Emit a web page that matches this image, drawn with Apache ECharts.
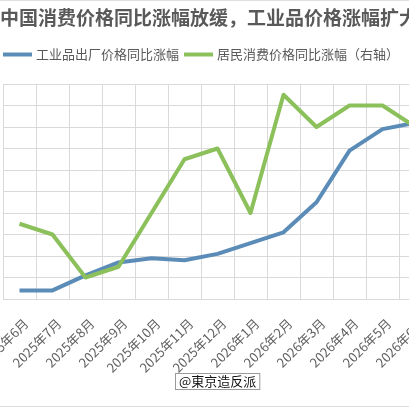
<!DOCTYPE html>
<html>
<head>
<meta charset="utf-8">
<script src="https://cdn.jsdelivr.net/npm/echarts@6/dist/echarts.min.js"></script>
<style>
html,body{margin:0;padding:0;background:#fff;overflow:hidden;width:409px;height:408px;}
#c{width:440px;height:408px;}
</style>
</head>
<body>
<div id="c"></div>
<script>
var titleText = '中国消费价格同比涨幅放缓，工业品价格涨幅扩大';
var categories = ['2025年6月','2025年7月','2025年8月','2025年9月','2025年10月','2025年11月','2025年12月','2026年1月','2026年2月','2026年3月','2026年4月','2026年5月','2026年6月'];
var ppiName = '工业品出厂价格同比涨幅';
var cpiName = '居民消费价格同比涨幅（右轴）';
var ppiValues = [-3.6, -3.6, -2.9, -2.3, -2.1, -2.2, -1.9, -1.4, -0.9, 0.5, 2.9, 3.9, 4.2];
var cpiValues = [0.1, 0.0, -0.4, -0.3, 0.2, 0.7, 0.8, 0.2, 1.3, 1.0, 1.2, 1.2, 1.0];
var watermark = '@東京造反派';

var FONT = '"Noto Sans CJK SC", "Noto Sans", sans-serif';
var gridColor = '#d9d9d9';
var labelStyle = {interval: 0, rotate: 45, margin: 22, fontFamily: FONT, fontSize: 13, color: '#606060'};
var chart = echarts.init(document.getElementById('c'), null, {renderer: 'canvas'});
chart.setOption({
  backgroundColor: '#ffffff',
  animation: false,
  title: {
    text: titleText,
    left: 0,
    top: 8,
    padding: 0,
    textStyle: {fontFamily: FONT, fontSize: 19, fontWeight: 'bold', color: '#595959'}
  },
  legend: {
    left: 3,
    top: 48,
    padding: 0,
    icon: 'rect',
    itemWidth: 29,
    itemHeight: 4,
    itemGap: 5,
    textStyle: {fontFamily: FONT, fontSize: 13, color: '#595959', padding: [0,0,0,-1]},
    data: [ppiName, cpiName]
  },
  grid: [
    {left: 3, width: 429, top: 84, bottom: 109, containLabel: false, outerBoundsMode: 'none'},
    {left: 9.5, width: 429, top: 84, bottom: 109, containLabel: false, outerBoundsMode: 'none'}
  ],
  xAxis: [
    {
      type: 'category',
      gridIndex: 0,
      data: categories,
      boundaryGap: true,
      axisTick: {show: false},
      axisLine: {lineStyle: {color: gridColor}},
      splitLine: {show: true, interval: 0, lineStyle: {color: gridColor, width: 1}},
      axisLabel: {show: false}
    },
    {
      type: 'category',
      gridIndex: 1,
      data: categories,
      boundaryGap: true,
      axisTick: {show: false},
      axisLine: {show: false},
      splitLine: {show: false},
      axisLabel: labelStyle
    }
  ],
  yAxis: [
    {
      type: 'value', gridIndex: 0, min: -4, max: 6, interval: 1,
      axisLabel: {show: false}, axisTick: {show: false}, axisLine: {show: false},
      splitLine: {show: true, lineStyle: {color: gridColor, width: 1}}
    },
    {
      type: 'value', gridIndex: 0, min: -0.6, max: 1.4, interval: 0.2,
      axisLabel: {show: false}, axisTick: {show: false}, axisLine: {show: false},
      splitLine: {show: false}
    },
    {
      type: 'value', gridIndex: 1, min: 0, max: 1, show: false,
      splitLine: {show: false}
    }
  ],
  series: [
    {
      name: ppiName, type: 'line', xAxisIndex: 0, yAxisIndex: 0, data: ppiValues,
      showSymbol: false, symbol: 'none',
      itemStyle: {color: '#5b8cb8'},
      lineStyle: {color: '#5b8cb8', width: 4, join: 'round'}
    },
    {
      name: cpiName, type: 'line', xAxisIndex: 0, yAxisIndex: 1, data: cpiValues,
      showSymbol: false, symbol: 'none',
      itemStyle: {color: '#8bc05b'},
      lineStyle: {color: '#8bc05b', width: 4, join: 'round'}
    }
  ],
  graphic: [
    {type: 'line', shape: {x1: 0, y1: 0.5, x2: 409, y2: 0.5}, style: {stroke: '#e0e0e0', lineWidth: 1}},
    {type: 'line', shape: {x1: 0, y1: 406.5, x2: 409, y2: 406.5}, style: {stroke: '#dcdcdc', lineWidth: 1}},
    {
      type: 'text', left: 175, top: 373,
      style: {
        text: watermark, fontFamily: FONT, fontSize: 13, fill: '#111',
        backgroundColor: '#fff', borderColor: '#9a9a9a', borderWidth: 1, padding: [1, 3, 1, 3]
      }
    }
  ]
});
</script>
</body>
</html>
